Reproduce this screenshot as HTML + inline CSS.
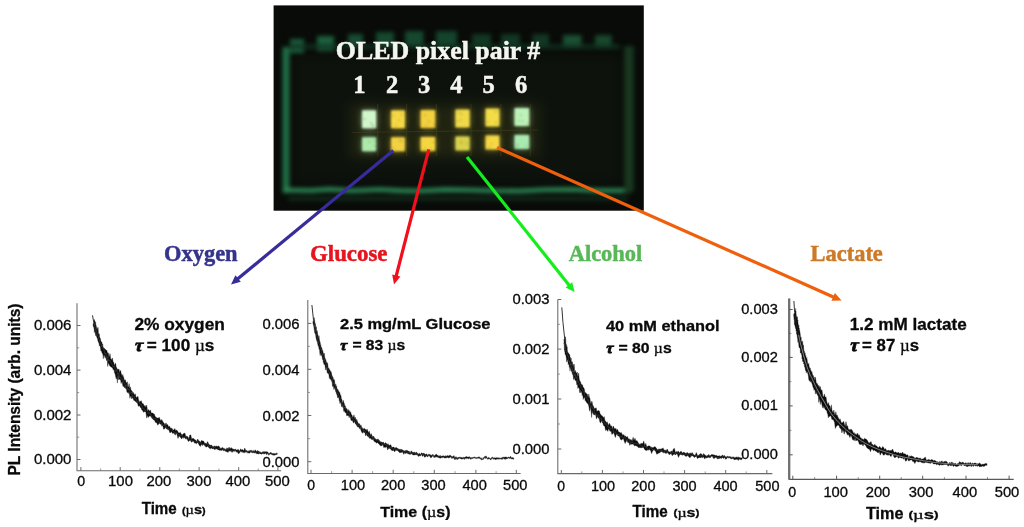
<!DOCTYPE html>
<html lang="en"><head><meta charset="utf-8"><title>OLED sensor array figure</title>
<style>html,body{margin:0;padding:0;background:#fff;}body{width:1024px;height:527px;overflow:hidden;}svg{display:block;}text{font-family:'Liberation Sans', Arial, sans-serif;fill:#0a0a0a;stroke:#0a0a0a;stroke-width:0.3px;}.tk{font-size:14px;}.b{font-weight:bold;}.ser{font-family:'Liberation Serif', 'Times New Roman', serif;font-weight:bold;stroke-width:0.5px;}</style></head><body>
<svg width="1024" height="527" viewBox="0 0 1024 527">
<defs><filter color-interpolation-filters="sRGB" id="bl1" x="-20%" y="-20%" width="140%" height="140%"><feGaussianBlur stdDeviation="0.6"/></filter><filter color-interpolation-filters="sRGB" id="bl2" x="-30%" y="-30%" width="160%" height="160%"><feGaussianBlur stdDeviation="2.2"/></filter><filter color-interpolation-filters="sRGB" id="bl3" x="-50%" y="-50%" width="200%" height="200%"><feGaussianBlur stdDeviation="3"/></filter><filter color-interpolation-filters="sRGB" id="bl07" x="-5%" y="-20%" width="110%" height="140%"><feGaussianBlur stdDeviation="0.65"/></filter><filter color-interpolation-filters="sRGB" id="bl15" x="-20%" y="-20%" width="140%" height="140%"><feGaussianBlur stdDeviation="1.0"/></filter><filter color-interpolation-filters="sRGB" id="bl6" x="-50%" y="-50%" width="200%" height="200%"><feGaussianBlur stdDeviation="6"/></filter><filter color-interpolation-filters="sRGB" id="soft" x="-5%" y="-5%" width="110%" height="110%"><feGaussianBlur stdDeviation="0.55"/></filter></defs>
<rect width="1024" height="527" fill="#ffffff"/>
<g id="photo">
<rect x="273.6" y="5.4" width="370.2" height="205.3" fill="#090b08"/>
<clipPath id="pc"><rect x="273.6" y="5.4" width="370.2" height="205.3"/></clipPath>
<g clip-path="url(#pc)">
<g filter="url(#bl6)">
<rect x="292" y="54" width="330" height="130" fill="#0d120d"/>
<rect x="350" y="104" width="190" height="54" fill="#2c2e12" opacity="0.6"/>
</g>
<g filter="url(#bl2)">
<rect x="290" y="39" width="14" height="14" fill="#1b5c3c"/>
<rect x="317" y="36" width="17" height="15" fill="#1c603e"/>
<rect x="348" y="34" width="15" height="14" fill="#174c33"/>
<rect x="376" y="32" width="18" height="15" fill="#16482e"/>
<rect x="405" y="31" width="18.5" height="15" fill="#16482e"/>
<rect x="436" y="31" width="21" height="15" fill="#15432b"/>
<rect x="472" y="34" width="19" height="13" fill="#123722"/>
<rect x="501" y="34" width="19" height="13" fill="#123722"/>
<rect x="532.5" y="34" width="16.5" height="13" fill="#123722"/>
<rect x="563" y="35" width="18.5" height="13" fill="#1a5033"/>
<rect x="595" y="35" width="16.7" height="13" fill="#18482c"/>
<rect x="290" y="44" width="330" height="5" fill="#123222" opacity="0.8"/>
<rect x="282.5" y="47" width="7" height="146" fill="#1f6e47"/>
<path d="M284 190 L310 190.5 L330 189.3 L352 190.8 L380 189.5 L400 190.6 L420 191 L445 189.6 L470 190 L495 190.8 L520 191 L545 189.8 L570 189.5 L600 190.6 L630 190.5" stroke="#2c8a56" stroke-width="4.6" fill="none"/>
<rect x="624" y="46" width="10" height="146" fill="#18361f"/>
<rect x="288" y="196" width="340" height="5" fill="#14301f" opacity="0.7"/>
</g>
<g filter="url(#bl3)" opacity="0.55">
<rect x="362.1" y="110.4" width="14" height="18" fill="#d2f6cc"/>
<rect x="362.1" y="137.3" width="14" height="14" fill="#aeeaac"/>
<rect x="391.1" y="110.4" width="13.8" height="18" fill="#f6d846"/>
<rect x="391.1" y="137.3" width="13.8" height="14" fill="#f2d242"/>
<rect x="420.6" y="110.1" width="14.6" height="18" fill="#f2d040"/>
<rect x="420.6" y="137" width="14.6" height="14" fill="#f6d640"/>
<rect x="455.4" y="109.6" width="14.2" height="18" fill="#f0da4a"/>
<rect x="455.4" y="136.5" width="14.2" height="14" fill="#d8d24c"/>
<rect x="485.5" y="108.6" width="13.9" height="18" fill="#f2dc48"/>
<rect x="485.5" y="135.5" width="13.9" height="14" fill="#f6d844"/>
<rect x="514.5" y="108.1" width="14.6" height="18" fill="#bdf2ba"/>
<rect x="514.5" y="135" width="14.6" height="14" fill="#aaeab2"/>
</g>
<g filter="url(#bl1)" opacity="0.3" stroke="#5a5a26" stroke-width="1.2">
<line x1="352" y1="132.5" x2="538" y2="130"/>
<line x1="377.6" y1="104" x2="377.6" y2="156"/>
<line x1="406.5" y1="104" x2="406.5" y2="156"/>
<line x1="436.4" y1="104" x2="436.4" y2="156"/>
<line x1="471" y1="104" x2="471" y2="156"/>
<line x1="500.9" y1="104" x2="500.9" y2="156"/>
<line x1="530.3" y1="104" x2="530.3" y2="156"/>
</g>
<g filter="url(#bl15)">
<rect x="362.1" y="110.4" width="14" height="17.8" fill="#d2f6cc"/>
<rect x="362.1" y="137.3" width="14" height="13.9" fill="#aeeaac"/>
<rect x="370" y="121.8" width="2.2" height="2.2" fill="#7fae6a" opacity="0.4"/>
<rect x="371.8" y="124.6" width="2.2" height="2.2" fill="#7fae6a" opacity="0.4"/>
<rect x="371.2" y="124.3" width="2.2" height="2.2" fill="#7fae6a" opacity="0.4"/>
<rect x="363.4" y="117.9" width="2.2" height="2.2" fill="#7fae6a" opacity="0.4"/>
<rect x="373.5" y="144.8" width="2.2" height="2.2" fill="#7fae6a" opacity="0.4"/>
<rect x="373" y="139.4" width="2.2" height="2.2" fill="#7fae6a" opacity="0.4"/>
<rect x="368.3" y="140.8" width="2.2" height="2.2" fill="#7fae6a" opacity="0.4"/>
<rect x="391.1" y="110.4" width="13.8" height="17.8" fill="#f6d846"/>
<rect x="391.1" y="137.3" width="13.8" height="13.9" fill="#f2d242"/>
<rect x="398" y="119.4" width="2.2" height="2.2" fill="#b89a28" opacity="0.4"/>
<rect x="392.2" y="114.4" width="2.2" height="2.2" fill="#b89a28" opacity="0.4"/>
<rect x="395.1" y="124.2" width="2.2" height="2.2" fill="#b89a28" opacity="0.4"/>
<rect x="400.4" y="113.6" width="2.2" height="2.2" fill="#b89a28" opacity="0.4"/>
<rect x="400.7" y="139.7" width="2.2" height="2.2" fill="#b89a28" opacity="0.4"/>
<rect x="398.8" y="139.6" width="2.2" height="2.2" fill="#b89a28" opacity="0.4"/>
<rect x="392.1" y="147" width="2.2" height="2.2" fill="#b89a28" opacity="0.4"/>
<rect x="420.6" y="110.1" width="14.6" height="17.8" fill="#f2d040"/>
<rect x="420.6" y="137" width="14.6" height="13.9" fill="#f6d640"/>
<rect x="424" y="114.1" width="2.2" height="2.2" fill="#b89a28" opacity="0.4"/>
<rect x="433" y="123.3" width="2.2" height="2.2" fill="#b89a28" opacity="0.4"/>
<rect x="425" y="124.6" width="2.2" height="2.2" fill="#b89a28" opacity="0.4"/>
<rect x="427.9" y="120.6" width="2.2" height="2.2" fill="#b89a28" opacity="0.4"/>
<rect x="424" y="147.4" width="2.2" height="2.2" fill="#b89a28" opacity="0.4"/>
<rect x="429.6" y="147.7" width="2.2" height="2.2" fill="#b89a28" opacity="0.4"/>
<rect x="432" y="141" width="2.2" height="2.2" fill="#b89a28" opacity="0.4"/>
<rect x="455.4" y="109.6" width="14.2" height="17.8" fill="#f0da4a"/>
<rect x="455.4" y="136.5" width="14.2" height="13.9" fill="#d8d24c"/>
<rect x="460.4" y="112.9" width="2.2" height="2.2" fill="#b89a28" opacity="0.4"/>
<rect x="458" y="111.5" width="2.2" height="2.2" fill="#b89a28" opacity="0.4"/>
<rect x="459.8" y="119" width="2.2" height="2.2" fill="#b89a28" opacity="0.4"/>
<rect x="456.4" y="120.1" width="2.2" height="2.2" fill="#b89a28" opacity="0.4"/>
<rect x="460.2" y="140.6" width="2.2" height="2.2" fill="#b89a28" opacity="0.4"/>
<rect x="465.6" y="142.3" width="2.2" height="2.2" fill="#b89a28" opacity="0.4"/>
<rect x="459.9" y="142.3" width="2.2" height="2.2" fill="#b89a28" opacity="0.4"/>
<rect x="485.5" y="108.6" width="13.9" height="17.8" fill="#f2dc48"/>
<rect x="485.5" y="135.5" width="13.9" height="13.9" fill="#f6d844"/>
<rect x="494.2" y="110.4" width="2.2" height="2.2" fill="#b89a28" opacity="0.4"/>
<rect x="497.1" y="109.9" width="2.2" height="2.2" fill="#b89a28" opacity="0.4"/>
<rect x="494.7" y="121.4" width="2.2" height="2.2" fill="#b89a28" opacity="0.4"/>
<rect x="486.7" y="120.6" width="2.2" height="2.2" fill="#b89a28" opacity="0.4"/>
<rect x="490.5" y="142.3" width="2.2" height="2.2" fill="#b89a28" opacity="0.4"/>
<rect x="486.6" y="137" width="2.2" height="2.2" fill="#b89a28" opacity="0.4"/>
<rect x="488.5" y="146.1" width="2.2" height="2.2" fill="#b89a28" opacity="0.4"/>
<rect x="514.5" y="108.1" width="14.6" height="17.8" fill="#bdf2ba"/>
<rect x="514.5" y="135" width="14.6" height="13.9" fill="#aaeab2"/>
<rect x="517.8" y="119.7" width="2.2" height="2.2" fill="#7fae6a" opacity="0.4"/>
<rect x="526.3" y="122.3" width="2.2" height="2.2" fill="#7fae6a" opacity="0.4"/>
<rect x="519.5" y="114.1" width="2.2" height="2.2" fill="#7fae6a" opacity="0.4"/>
<rect x="521.6" y="120" width="2.2" height="2.2" fill="#7fae6a" opacity="0.4"/>
<rect x="516.8" y="143.5" width="2.2" height="2.2" fill="#7fae6a" opacity="0.4"/>
<rect x="524.7" y="144.6" width="2.2" height="2.2" fill="#7fae6a" opacity="0.4"/>
<rect x="515.9" y="145.5" width="2.2" height="2.2" fill="#7fae6a" opacity="0.4"/>
</g>
<g filter="url(#bl07)">
<text class="ser" x="335.8" y="58.9" font-size="25" style="fill:#f6f6f0;stroke:#f6f6f0" textLength="204.5" lengthAdjust="spacingAndGlyphs">OLED pixel pair #</text>
<text class="ser" x="359.3" y="92.9" font-size="24.5" text-anchor="middle" style="fill:#f6f6f0;stroke:#f6f6f0">1</text>
<text class="ser" x="392" y="92.9" font-size="24.5" text-anchor="middle" style="fill:#f6f6f0;stroke:#f6f6f0">2</text>
<text class="ser" x="424" y="92.9" font-size="24.5" text-anchor="middle" style="fill:#f6f6f0;stroke:#f6f6f0">3</text>
<text class="ser" x="456.4" y="92.9" font-size="24.5" text-anchor="middle" style="fill:#f6f6f0;stroke:#f6f6f0">4</text>
<text class="ser" x="488.7" y="92.9" font-size="24.5" text-anchor="middle" style="fill:#f6f6f0;stroke:#f6f6f0">5</text>
<text class="ser" x="521.2" y="92.9" font-size="24.5" text-anchor="middle" style="fill:#f6f6f0;stroke:#f6f6f0">6</text>
</g>
</g>
</g>
<g id="arrows" filter="url(#bl07)">
<line x1="393.3" y1="150.4" x2="236.6" y2="279.8" stroke="#382c9c" stroke-width="3.2"/>
<polygon points="231,284.4 235.4,275.3 240.8,281.8" fill="#382c9c"/>
<line x1="428.8" y1="149.4" x2="395.8" y2="277.5" stroke="#f0101c" stroke-width="3.2"/>
<polygon points="394,284.5 392.2,274.5 400.4,276.6" fill="#f0101c"/>
<line x1="467" y1="157" x2="570.1" y2="286.4" stroke="#14ee1c" stroke-width="3.2"/>
<polygon points="574.6,292 565.6,287.4 572.2,282.2" fill="#14ee1c"/>
<line x1="497" y1="147.5" x2="835" y2="297.7" stroke="#f0600c" stroke-width="3.2"/>
<polygon points="841.6,300.6 831.5,300.7 834.9,293" fill="#f0600c"/>
</g>
<g filter="url(#soft)">
<text class="ser" x="164" y="261" font-size="23" style="fill:#34348c;stroke:#34348c" textLength="73.6" lengthAdjust="spacingAndGlyphs">Oxygen</text>
<text class="ser" x="310" y="261" font-size="23" style="fill:#e6141e;stroke:#e6141e" textLength="77.5" lengthAdjust="spacingAndGlyphs">Glucose</text>
<text class="ser" x="568.7" y="261" font-size="23" style="fill:#58b858;stroke:#58b858" textLength="73.6" lengthAdjust="spacingAndGlyphs">Alcohol</text>
<text class="ser" x="810.6" y="261" font-size="23" style="fill:#cc7a28;stroke:#cc7a28" textLength="72.2" lengthAdjust="spacingAndGlyphs">Lactate</text>
</g>
<g id="plots" filter="url(#soft)">
<text class="b" transform="translate(19.9,475.5) rotate(-90)" font-size="16" textLength="172" lengthAdjust="spacingAndGlyphs">PL Intensity (arb. units)</text>
<g>
<path d="M77 303.3 V470.7 H281.2" fill="none" stroke="#6a6a6a" stroke-width="1.05"/>
<line x1="77" y1="459.5" x2="80.5" y2="459.5" stroke="#6a6a6a" stroke-width="1"/>
<text x="33.9" y="464" font-size="14.2" textLength="37.6" lengthAdjust="spacingAndGlyphs">0.000</text>
<line x1="77" y1="415" x2="80.5" y2="415" stroke="#6a6a6a" stroke-width="1"/>
<text x="33.9" y="419.5" font-size="14.2" textLength="37.6" lengthAdjust="spacingAndGlyphs">0.002</text>
<line x1="77" y1="370.1" x2="80.5" y2="370.1" stroke="#6a6a6a" stroke-width="1"/>
<text x="33.9" y="374.6" font-size="14.2" textLength="37.6" lengthAdjust="spacingAndGlyphs">0.004</text>
<line x1="77" y1="325.5" x2="80.5" y2="325.5" stroke="#6a6a6a" stroke-width="1"/>
<text x="33.9" y="330" font-size="14.2" textLength="37.6" lengthAdjust="spacingAndGlyphs">0.006</text>
<line x1="77" y1="437.2" x2="79.2" y2="437.2" stroke="#6a6a6a" stroke-width="0.9" opacity="0.75"/>
<line x1="77" y1="392.6" x2="79.2" y2="392.6" stroke="#6a6a6a" stroke-width="0.9" opacity="0.75"/>
<line x1="77" y1="347.8" x2="79.2" y2="347.8" stroke="#6a6a6a" stroke-width="0.9" opacity="0.75"/>
<line x1="80.9" y1="470.7" x2="80.9" y2="467.09999999999997" stroke="#6a6a6a" stroke-width="1"/>
<text x="81.2" y="486.3" text-anchor="middle" font-size="14.2">0</text>
<line x1="100.6" y1="470.7" x2="100.6" y2="468.5" stroke="#6a6a6a" stroke-width="0.9" opacity="0.75"/>
<line x1="120.2" y1="470.7" x2="120.2" y2="467.09999999999997" stroke="#6a6a6a" stroke-width="1"/>
<text x="108.1" y="486.3" font-size="14.2" textLength="24.8" lengthAdjust="spacingAndGlyphs">100</text>
<line x1="140" y1="470.7" x2="140" y2="468.5" stroke="#6a6a6a" stroke-width="0.9" opacity="0.75"/>
<line x1="159.8" y1="470.7" x2="159.8" y2="467.09999999999997" stroke="#6a6a6a" stroke-width="1"/>
<text x="146.4" y="486.3" font-size="14.2" textLength="24.8" lengthAdjust="spacingAndGlyphs">200</text>
<line x1="179.4" y1="470.7" x2="179.4" y2="468.5" stroke="#6a6a6a" stroke-width="0.9" opacity="0.75"/>
<line x1="199.1" y1="470.7" x2="199.1" y2="467.09999999999997" stroke="#6a6a6a" stroke-width="1"/>
<text x="186.6" y="486.3" font-size="14.2" textLength="24.8" lengthAdjust="spacingAndGlyphs">300</text>
<line x1="218.9" y1="470.7" x2="218.9" y2="468.5" stroke="#6a6a6a" stroke-width="0.9" opacity="0.75"/>
<line x1="238.7" y1="470.7" x2="238.7" y2="467.09999999999997" stroke="#6a6a6a" stroke-width="1"/>
<text x="225.5" y="486.3" font-size="14.2" textLength="24.8" lengthAdjust="spacingAndGlyphs">400</text>
<line x1="258.3" y1="470.7" x2="258.3" y2="468.5" stroke="#6a6a6a" stroke-width="0.9" opacity="0.75"/>
<line x1="277.9" y1="470.7" x2="277.9" y2="467.09999999999997" stroke="#6a6a6a" stroke-width="1"/>
<text x="264.9" y="486.3" font-size="14.2" textLength="24.8" lengthAdjust="spacingAndGlyphs">500</text>
<text class="b" x="141.7" y="514.4" font-size="15.8" textLength="35" lengthAdjust="spacingAndGlyphs">Time</text><text class="b" x="182" y="514.4" font-size="12" textLength="23.6" lengthAdjust="spacingAndGlyphs"><tspan font-size="8.9" dy="-0.6">(</tspan><tspan dy="0.6"><tspan style="font-family:'Liberation Serif', 'Times New Roman', serif;font-weight:normal">µ</tspan>s</tspan><tspan font-size="8.9" dy="-0.6">)</tspan></text>
<text class="b" x="134.4" y="329.7" font-size="16.5" textLength="90.5" lengthAdjust="spacingAndGlyphs">2% oxygen</text>
<text class="b" transform="translate(133.4,351.1) skewX(-14)" font-size="17.8" textLength="8.6" lengthAdjust="spacingAndGlyphs" style="font-family:'Liberation Serif', 'Times New Roman', serif;stroke-width:0.7px">τ</text>
<text class="b" x="146.8" y="351.1" font-size="16.5" textLength="67.6" lengthAdjust="spacingAndGlyphs">= 100 <tspan style="font-family:'Liberation Serif', 'Times New Roman', serif;font-weight:normal">µ</tspan>s</text>
<path d="M92.5 315.3 L93.7 322.1" stroke="#333" stroke-width="1" fill="none"/>
<path d="M94.4 319.4L94.7 320.9L95.0 321.2L95.3 322.1L95.6 322.3L95.9 325.1L96.2 325.6L96.5 327.3L96.8 328.9L97.1 329.8L97.4 327.6L97.7 331.6L98.0 327.4L98.3 332.1L98.7 334.5L99.0 333.7L99.3 334.1L99.6 337.1L100.0 338.0L100.3 338.2L100.7 340.5L101.0 341.3L101.4 342.1L101.8 342.1L102.2 344.1L102.7 344.0L103.1 347.1L103.6 348.0L104.0 348.2L104.5 348.3L105.0 349.6L105.5 349.6L106.0 349.8L106.4 350.8L106.9 350.2L107.4 353.4L107.9 352.6L108.4 353.3L108.9 356.7L109.4 356.6L110.0 353.5L110.6 358.3L111.2 360.1L111.8 358.9L112.4 358.0L113.1 361.9L113.7 362.3L114.3 365.4L115.0 363.7L115.6 363.2L116.2 366.8L116.8 368.2L117.4 369.1L118.0 369.9L118.6 369.0L119.1 369.3L119.6 373.1L120.2 370.8L120.7 370.6L121.2 373.5L121.7 374.5L122.2 377.0L122.8 374.5L123.3 376.6L123.8 378.1L124.4 379.9L125.0 380.5L125.5 379.7L126.1 383.2L126.7 382.5L127.3 381.7L127.9 386.2L128.5 387.3L129.1 383.5L129.7 388.4L130.3 386.9L130.9 389.6L131.6 390.8L132.2 391.3L132.8 393.3L133.4 392.4L134.1 394.5L134.7 394.7L135.3 393.8L136.0 397.3L136.6 397.5L137.3 397.1L137.9 396.3L138.6 399.8L139.3 401.4L139.9 402.0L140.6 400.9L141.3 400.8L142.0 402.9L142.7 403.7L143.4 403.8L144.2 406.5L145.0 405.3L145.9 407.4L146.7 405.0L147.5 411.1L148.2 409.6L149.0 410.2L149.7 411.3L150.5 409.9L151.2 412.9L152.0 413.1L152.7 412.9L153.5 413.8L154.3 414.1L155.1 416.6L155.9 417.1L156.7 417.8L157.5 418.1L158.3 418.3L159.2 417.2L160.0 419.2L160.8 421.0L161.7 419.4L162.5 421.0L163.4 422.4L164.2 423.2L165.1 424.9L166.0 422.8L166.8 425.0L167.7 424.5L168.6 427.0L169.4 426.1L170.3 428.0L171.2 428.1L172.1 428.4L173.0 430.0L173.9 430.0L174.8 428.5L175.7 430.8L176.6 430.0L177.5 431.0L178.4 432.7L179.3 433.1L180.3 432.3L181.2 434.0L182.1 435.0L183.1 434.0L184.0 433.3L185.0 433.2L185.9 436.8L186.9 436.1L187.9 437.0L188.8 438.7L189.8 435.0L190.8 434.9L191.8 439.4L192.7 438.3L193.7 438.5L194.7 439.8L195.7 440.0L196.7 441.7L197.6 439.0L198.6 440.4L199.6 441.2L200.6 442.2L201.6 440.3L202.6 441.0L203.6 441.1L204.6 443.2L205.6 443.2L206.6 443.7L207.6 441.6L208.6 443.8L209.6 445.1L210.6 445.3L211.6 445.1L212.6 446.4L213.7 446.4L214.7 445.9L215.7 446.4L216.7 446.0L217.7 446.5L218.8 445.9L219.8 447.6L220.8 448.4L221.9 447.8L222.9 447.6L223.9 448.7L224.9 448.7L226.0 449.5L227.0 447.7L228.1 448.9L229.1 447.1L230.1 449.1L231.2 447.5L232.2 448.8L233.3 449.1L234.3 449.6L235.3 449.0L236.4 450.0L237.4 449.8L238.5 449.5L239.5 451.3L240.6 448.8L241.6 450.1L242.7 449.5L243.7 450.8L244.8 448.0L245.8 450.7L246.8 450.2L247.9 451.7L248.9 450.5L250.0 450.9L251.0 449.8L252.1 451.5L253.1 450.3L254.2 451.5L255.2 449.8L256.3 451.5L257.3 450.5L258.4 451.1L259.4 451.7L260.5 452.0L261.5 452.8L262.5 451.8L263.6 451.8L264.6 451.7L265.7 451.7L266.7 451.8L267.8 452.1L268.8 453.7L269.9 453.0L270.9 452.3L272.0 453.5L273.0 453.4L274.1 453.5L275.1 453.7L276.2 453.2L277.2 452.9L277.2 454.4L276.1 454.6L275.1 455.0L274.0 455.2L273.0 455.0L271.9 454.8L270.9 453.8L269.8 454.3L268.8 455.3L267.7 453.4L266.7 454.8L265.6 453.0L264.6 454.0L263.5 453.8L262.5 453.4L261.5 454.2L260.4 453.7L259.4 453.5L258.3 454.0L257.3 453.7L256.2 453.6L255.2 452.7L254.1 453.1L253.1 452.4L252.0 453.0L251.0 451.5L249.9 453.1L248.9 453.1L247.8 453.1L246.8 452.2L245.7 452.1L244.7 452.8L243.7 452.4L242.6 452.3L241.6 452.0L240.5 451.2L239.5 453.1L238.4 453.7L237.4 452.0L236.3 452.1L235.3 450.6L234.2 451.5L233.2 450.9L232.1 452.4L231.1 451.0L230.0 451.3L229.0 450.8L228.0 452.6L226.9 451.5L225.9 451.8L224.8 450.3L223.8 451.1L222.8 449.8L221.7 450.6L220.7 450.2L219.6 450.3L218.6 449.9L217.6 449.5L216.5 448.8L215.5 449.3L214.5 449.6L213.5 448.4L212.4 448.9L211.4 447.9L210.4 448.8L209.4 448.2L208.4 447.0L207.4 446.2L206.4 447.2L205.4 446.6L204.4 445.3L203.4 444.6L202.4 445.6L201.4 444.2L200.4 446.5L199.4 445.6L198.4 443.6L197.4 442.4L196.4 443.8L195.4 443.1L194.4 443.1L193.4 441.1L192.4 441.5L191.4 442.2L190.4 440.5L189.5 440.6L188.5 441.6L187.5 439.9L186.5 438.6L185.6 439.1L184.6 437.4L183.6 438.3L182.7 437.0L181.7 439.1L180.8 437.7L179.8 436.5L178.9 436.1L178.0 438.4L177.0 434.6L176.1 433.1L175.2 435.3L174.3 433.4L173.4 433.1L172.5 433.4L171.6 431.6L170.7 432.6L169.8 432.7L168.9 429.7L168.0 429.8L167.1 429.1L166.3 428.7L165.4 427.2L164.5 429.0L163.6 429.2L162.8 425.5L161.9 426.3L161.1 423.9L160.2 424.2L159.4 422.9L158.5 424.2L157.7 425.2L156.8 422.7L156.0 422.7L155.2 421.9L154.4 420.0L153.6 420.1L152.8 419.1L152.0 418.3L151.2 416.9L150.5 416.0L149.7 415.9L148.9 416.4L148.2 417.6L147.4 415.6L146.7 418.1L145.9 412.3L145.1 411.6L144.3 411.7L143.5 412.2L142.7 410.4L141.9 410.0L141.1 408.0L140.4 407.5L139.7 405.7L139.0 406.1L138.4 406.3L137.7 404.1L137.0 402.3L136.4 402.5L135.7 401.8L135.0 400.9L134.4 400.5L133.8 400.4L133.1 398.2L132.5 397.6L131.8 399.0L131.2 396.5L130.6 396.1L129.9 398.3L129.3 393.3L128.7 393.5L128.1 391.9L127.5 392.8L126.9 391.8L126.3 388.4L125.7 388.7L125.1 386.9L124.5 388.0L123.9 385.2L123.3 386.9L122.8 385.8L122.2 381.8L121.7 381.8L121.1 383.5L120.6 380.1L120.1 379.6L119.6 378.9L119.0 379.7L118.5 379.6L118.0 374.0L117.4 383.1L116.9 376.9L116.3 379.2L115.7 376.8L115.1 373.7L114.5 373.0L113.9 368.7L113.3 370.2L112.6 367.7L112.0 367.7L111.4 366.9L110.7 366.8L110.1 366.0L109.5 365.6L108.9 364.0L108.3 362.8L107.7 366.6L107.2 358.4L106.7 360.8L106.2 359.0L105.7 356.3L105.2 358.2L104.7 356.6L104.2 355.0L103.7 354.9L103.3 358.8L102.8 354.0L102.3 353.3L101.8 352.3L101.4 350.5L100.9 351.1L100.5 348.1L100.1 346.2L99.7 345.9L99.3 345.5L99.0 342.5L98.6 342.8L98.3 341.7L97.9 340.8L97.6 338.9L97.3 338.3L96.9 337.5L96.6 336.4L96.3 335.9L96.0 333.1L95.7 335.8L95.3 333.3L95.0 331.1L94.7 331.3L94.4 332.6L94.1 328.9L93.9 327.9L93.6 326.4L93.3 326.5L93.0 324.8Z" fill="#0e0e0e" stroke="#0e0e0e" stroke-width="0.35" stroke-linejoin="round"/>
<path d="M93.7 320.9L94.1 324.7L94.8 324.3L95.2 329.6L95.9 329.1L96.3 331.4L97.0 333.5L97.4 334.2L98.2 336.2L98.6 338.4L99.5 339.9L99.9 342.4L100.9 343.7L101.4 346.7L102.5 344.7L103.1 348.5L104.2 350.3L104.8 354.1L106.0 353.1L106.6 358.3L107.8 356.5L108.5 361.0L109.9 360.0L110.7 362.3L112.3 364.8L113.0 366.9L114.6 365.7L115.4 371.4L116.9 369.7L117.6 374.3L118.9 373.2L119.6 377.5L120.9 377.2L121.5 379.1L122.8 378.8L123.5 382.5L124.9 383.5L125.7 386.7L127.1 384.8L127.9 389.9L129.4 389.1L130.1 393.2L131.7 392.3L132.5 396.6L134.1 396.0L134.8 398.6L136.4 399.2L137.3 402.5L138.9 400.5L139.7 403.8L141.4 404.5L142.4 408.2L144.3 409.0L145.3 410.9L147.3 409.6L148.2 413.4L150.1 413.1L151.0 415.9L152.9 417.0L153.9 419.6L155.9 417.9L156.9 420.0L159.0 422.6L160.0 422.7L162.1 423.2L163.2 425.7L165.3 424.9L166.4 427.8L168.5 428.5L169.6 429.5L171.8 428.1L172.9 431.3L175.2 432.9L176.3 432.8L178.6 434.6L179.7 435.7L182.1 435.1L183.2 437.6L185.6 436.9L186.8 439.5L189.2 438.5L190.4 440.5L192.8 440.7L194.1 442.3L196.5 440.6L197.7 442.0L200.2 442.1L201.4 444.3L203.9 444.7L205.2 445.2L207.6 443.3L208.9 446.7L211.4 446.5L212.6 447.4L215.2 447.7L216.4 449.7L219.0 448.4L220.3 448.5L222.8 449.4L224.1 449.4L226.7 449.7L228.0 449.7L230.5 450.5L231.8 450.7L234.4 449.7L235.7 452.4L238.3 450.6L239.6 451.8L242.2 451.0L243.5 452.9L246.1 450.9L247.4 452.7L250.0 451.4L251.3 452.4L253.8 451.1L255.1 452.7L257.7 451.6L259.0 452.7L261.6 452.4L262.9 452.5L265.5 453.0L266.8 453.6L269.4 454.1L270.7 454.5L273.3 453.9L274.6 453.7L277.2 453.3" fill="none" stroke="#8a8a8a" stroke-width="0.45" opacity="0.55"/>
</g>
<g>
<path d="M307.8 300 V473.4 H520.6" fill="none" stroke="#6a6a6a" stroke-width="1.05"/>
<line x1="307.8" y1="461.7" x2="311.3" y2="461.7" stroke="#6a6a6a" stroke-width="1"/>
<text x="262.4" y="466.9" font-size="14" textLength="37.1" lengthAdjust="spacingAndGlyphs">0.000</text>
<line x1="307.8" y1="415.5" x2="311.3" y2="415.5" stroke="#6a6a6a" stroke-width="1"/>
<text x="262.4" y="420.7" font-size="14" textLength="37.1" lengthAdjust="spacingAndGlyphs">0.002</text>
<line x1="307.8" y1="369.3" x2="311.3" y2="369.3" stroke="#6a6a6a" stroke-width="1"/>
<text x="262.4" y="374.5" font-size="14" textLength="37.1" lengthAdjust="spacingAndGlyphs">0.004</text>
<line x1="307.8" y1="323.4" x2="311.3" y2="323.4" stroke="#6a6a6a" stroke-width="1"/>
<text x="262.4" y="328.6" font-size="14" textLength="37.1" lengthAdjust="spacingAndGlyphs">0.006</text>
<line x1="307.8" y1="438.6" x2="310.0" y2="438.6" stroke="#6a6a6a" stroke-width="0.9" opacity="0.75"/>
<line x1="307.8" y1="392.4" x2="310.0" y2="392.4" stroke="#6a6a6a" stroke-width="0.9" opacity="0.75"/>
<line x1="307.8" y1="346.4" x2="310.0" y2="346.4" stroke="#6a6a6a" stroke-width="0.9" opacity="0.75"/>
<line x1="311" y1="473.4" x2="311" y2="469.79999999999995" stroke="#6a6a6a" stroke-width="1"/>
<text x="311.1" y="490" text-anchor="middle" font-size="14">0</text>
<line x1="331.6" y1="473.4" x2="331.6" y2="471.2" stroke="#6a6a6a" stroke-width="0.9" opacity="0.75"/>
<line x1="352.1" y1="473.4" x2="352.1" y2="469.79999999999995" stroke="#6a6a6a" stroke-width="1"/>
<text x="340.8" y="490" font-size="14" textLength="24.4" lengthAdjust="spacingAndGlyphs">100</text>
<line x1="372.6" y1="473.4" x2="372.6" y2="471.2" stroke="#6a6a6a" stroke-width="0.9" opacity="0.75"/>
<line x1="393.2" y1="473.4" x2="393.2" y2="469.79999999999995" stroke="#6a6a6a" stroke-width="1"/>
<text x="380.9" y="490" font-size="14" textLength="24.4" lengthAdjust="spacingAndGlyphs">200</text>
<line x1="413.8" y1="473.4" x2="413.8" y2="471.2" stroke="#6a6a6a" stroke-width="0.9" opacity="0.75"/>
<line x1="434.3" y1="473.4" x2="434.3" y2="469.79999999999995" stroke="#6a6a6a" stroke-width="1"/>
<text x="421.3" y="490" font-size="14" textLength="24.4" lengthAdjust="spacingAndGlyphs">300</text>
<line x1="455.1" y1="473.4" x2="455.1" y2="471.2" stroke="#6a6a6a" stroke-width="0.9" opacity="0.75"/>
<line x1="475.9" y1="473.4" x2="475.9" y2="469.79999999999995" stroke="#6a6a6a" stroke-width="1"/>
<text x="462.4" y="490" font-size="14" textLength="24.4" lengthAdjust="spacingAndGlyphs">400</text>
<line x1="496.1" y1="473.4" x2="496.1" y2="471.2" stroke="#6a6a6a" stroke-width="0.9" opacity="0.75"/>
<line x1="516.3" y1="473.4" x2="516.3" y2="469.79999999999995" stroke="#6a6a6a" stroke-width="1"/>
<text x="503" y="490" font-size="14" textLength="24.4" lengthAdjust="spacingAndGlyphs">500</text>
<text class="b" x="380.2" y="516.7" font-size="15.5" textLength="70.3" lengthAdjust="spacingAndGlyphs">Time (<tspan style="font-family:'Liberation Serif', 'Times New Roman', serif;font-weight:normal">µ</tspan>s)</text>
<text class="b" x="340" y="328.9" font-size="14" textLength="150.5" lengthAdjust="spacingAndGlyphs">2.5 mg/mL Glucose</text>
<text class="b" transform="translate(339,349.5) skewX(-14)" font-size="15.1" textLength="7.3" lengthAdjust="spacingAndGlyphs" style="font-family:'Liberation Serif', 'Times New Roman', serif;stroke-width:0.7px">τ</text>
<text class="b" x="352.4" y="349.5" font-size="14" textLength="52.8" lengthAdjust="spacingAndGlyphs">= 83 <tspan style="font-family:'Liberation Serif', 'Times New Roman', serif;font-weight:normal">µ</tspan>s</text>
<path d="M311.9 305 L313.5 320" stroke="#333" stroke-width="1" fill="none"/>
<path d="M314.2 317.6L314.4 319.8L314.6 320.1L314.8 321.8L315.0 322.7L315.2 323.4L315.4 323.7L315.6 325.1L315.8 327.0L316.0 328.6L316.3 326.6L316.5 330.2L316.7 331.2L317.0 331.2L317.2 330.6L317.4 331.7L317.7 334.5L317.9 335.0L318.2 335.8L318.5 337.9L318.7 338.4L319.0 335.7L319.3 339.3L319.6 340.2L319.9 342.1L320.2 342.3L320.5 346.0L320.8 344.7L321.2 347.7L321.5 347.2L321.8 348.0L322.2 349.5L322.5 351.7L322.8 350.5L323.2 352.9L323.5 353.3L323.8 355.6L324.2 353.1L324.5 356.0L324.9 357.9L325.2 358.6L325.6 359.3L325.9 360.0L326.3 361.8L326.6 362.7L327.0 362.8L327.4 362.8L327.7 363.8L328.1 367.2L328.5 368.7L328.9 367.9L329.3 369.6L329.7 369.7L330.1 370.3L330.5 372.3L330.9 371.3L331.4 373.0L331.8 374.8L332.2 376.0L332.6 376.7L333.0 377.2L333.4 378.9L333.8 379.9L334.2 379.5L334.6 380.8L335.0 385.2L335.4 385.2L335.8 383.8L336.2 385.8L336.6 386.3L337.0 388.4L337.4 390.0L337.9 389.1L338.3 391.6L338.7 390.7L339.1 392.7L339.4 391.9L339.8 392.7L340.3 395.7L340.7 394.7L341.1 396.8L341.5 399.5L341.9 399.3L342.4 402.3L342.8 403.1L343.3 400.3L343.8 402.6L344.3 403.6L344.8 406.1L345.3 405.7L345.8 407.9L346.3 408.2L346.9 408.5L347.5 411.2L348.1 409.3L348.7 411.0L349.3 410.5L350.0 412.5L350.6 411.7L351.3 414.6L352.0 415.0L352.6 417.2L353.3 417.1L354.0 414.8L354.7 418.7L355.4 417.2L356.1 420.9L356.8 419.2L357.5 421.8L358.2 422.9L358.9 424.3L359.6 423.6L360.3 426.1L361.0 424.9L361.7 427.5L362.4 427.7L363.2 429.4L363.9 428.3L364.7 428.7L365.5 429.3L366.2 430.7L367.0 428.9L367.8 430.8L368.6 432.8L369.4 431.2L370.2 435.3L371.1 433.6L371.9 435.2L372.7 437.0L373.6 436.1L374.4 437.8L375.3 438.8L376.1 438.9L377.0 440.0L377.9 438.8L378.8 440.1L379.7 440.8L380.6 441.9L381.5 441.9L382.4 442.6L383.3 442.0L384.3 443.9L385.2 442.7L386.1 443.1L387.1 444.7L388.0 443.6L389.0 445.8L390.0 444.7L390.9 445.0L391.9 447.8L392.9 447.1L393.9 447.1L394.9 448.4L395.9 447.3L396.9 448.0L397.9 448.5L398.9 449.3L399.9 449.3L400.9 449.4L401.9 449.6L403.0 450.2L404.0 450.9L405.0 450.8L406.0 450.4L407.1 450.2L408.1 451.3L409.1 451.1L410.1 452.9L411.2 450.8L412.2 452.0L413.2 452.5L414.3 452.1L415.3 453.1L416.3 452.1L417.4 453.1L418.4 454.1L419.4 453.2L420.5 454.6L421.5 452.8L422.6 453.5L423.6 453.3L424.6 453.7L425.7 454.6L426.7 453.8L427.8 455.6L428.8 454.1L429.8 454.4L430.9 455.0L431.9 455.2L433.0 454.2L434.0 455.9L435.1 455.2L436.1 454.1L437.2 455.0L438.2 455.7L439.2 455.9L440.3 455.4L441.3 456.3L442.4 455.9L443.4 455.7L444.5 456.3L445.5 455.8L446.6 456.0L447.6 455.4L448.6 455.9L449.7 455.2L450.7 455.5L451.8 456.4L452.8 456.8L453.9 455.5L454.9 457.8L456.0 456.6L457.0 457.9L458.1 457.6L459.1 457.1L460.2 457.3L461.2 457.3L462.3 457.7L463.3 457.3L464.4 457.6L465.4 457.0L466.5 456.6L467.5 457.1L468.6 457.0L469.6 456.7L470.7 458.0L471.7 457.6L472.8 457.6L473.8 457.2L474.9 456.9L475.9 457.7L477.0 457.5L478.0 457.2L479.1 456.8L480.1 457.7L481.2 458.0L482.2 458.9L483.3 457.9L484.3 456.8L485.4 456.2L486.4 456.2L487.5 458.4L488.5 457.3L489.6 458.1L490.6 458.7L491.7 457.4L492.7 457.2L493.8 458.0L494.8 457.8L495.9 458.1L496.9 457.6L498.0 458.1L499.0 457.7L500.1 458.2L501.1 458.1L502.2 457.5L503.2 457.2L504.3 457.2L505.3 457.1L506.4 457.1L507.4 457.7L508.5 457.0L509.5 457.5L510.6 456.3L511.6 457.9L512.7 457.6L513.7 458.1L513.7 459.3L512.7 458.9L511.6 458.9L510.6 458.2L509.5 458.4L508.5 457.9L507.4 458.4L506.4 458.9L505.3 459.2L504.3 459.0L503.2 458.2L502.2 459.4L501.1 459.1L500.1 458.9L499.0 459.0L498.0 459.3L496.9 458.7L495.9 459.9L494.8 458.8L493.8 459.5L492.7 458.2L491.7 458.8L490.6 460.1L489.6 458.8L488.5 459.0L487.5 459.3L486.4 457.7L485.4 458.5L484.3 457.7L483.3 459.4L482.2 459.6L481.2 459.8L480.1 458.6L479.1 458.2L478.0 458.0L477.0 458.6L475.9 458.6L474.9 458.1L473.8 458.0L472.8 458.5L471.7 458.6L470.7 459.4L469.6 457.9L468.6 459.0L467.5 458.3L466.5 458.6L465.4 458.3L464.4 459.4L463.3 458.6L462.3 459.1L461.2 459.1L460.2 458.4L459.1 458.1L458.1 459.2L457.0 459.4L456.0 458.6L454.9 460.0L453.9 458.1L452.8 458.1L451.8 458.6L450.7 456.8L449.7 457.8L448.6 458.1L447.6 457.6L446.5 457.7L445.5 458.0L444.4 457.9L443.4 457.3L442.3 457.5L441.3 457.7L440.2 458.3L439.2 457.7L438.1 457.4L437.1 456.9L436.0 457.0L435.0 457.2L434.0 457.6L432.9 455.8L431.9 456.9L430.8 457.9L429.8 456.2L428.7 455.5L427.7 457.0L426.6 456.0L425.6 456.7L424.5 457.2L423.5 455.0L422.5 456.4L421.4 454.5L420.4 456.0L419.3 455.9L418.3 456.4L417.3 454.7L416.2 454.8L415.2 454.7L414.1 454.9L413.1 455.0L412.1 454.3L411.0 453.4L410.0 454.7L409.0 453.7L407.9 453.9L406.9 452.5L405.9 453.8L404.8 452.4L403.8 454.4L402.8 452.0L401.8 452.4L400.7 452.4L399.7 452.7L398.7 451.7L397.7 450.6L396.7 450.5L395.7 450.1L394.7 451.9L393.7 450.3L392.7 450.7L391.7 450.4L390.7 449.1L389.7 448.4L388.7 448.2L387.7 449.9L386.7 446.6L385.8 447.4L384.8 446.9L383.9 447.8L382.9 444.6L382.0 445.8L381.1 445.7L380.1 445.5L379.2 444.3L378.3 443.4L377.4 442.5L376.5 443.2L375.6 442.0L374.7 441.7L373.9 441.1L373.0 438.4L372.2 440.0L371.3 438.9L370.5 438.3L369.7 438.4L368.8 437.0L368.0 436.4L367.2 436.0L366.4 434.0L365.6 436.0L364.8 432.2L364.0 432.9L363.3 431.6L362.5 433.3L361.7 432.1L361.0 430.4L360.3 428.1L359.5 428.8L358.8 426.7L358.1 427.2L357.4 426.8L356.7 425.5L356.0 424.2L355.3 423.8L354.6 421.0L353.9 423.0L353.2 422.6L352.5 420.6L351.9 420.3L351.2 420.7L350.5 418.3L349.8 415.7L349.1 417.7L348.5 415.3L347.8 416.0L347.2 415.0L346.6 415.7L346.0 412.0L345.4 413.0L344.8 411.9L344.3 410.4L343.8 411.4L343.3 408.0L342.8 407.5L342.3 405.0L341.8 407.0L341.4 405.8L340.9 402.5L340.4 402.3L340.0 403.7L339.6 401.3L339.2 400.4L338.8 397.6L338.4 397.2L338.0 397.7L337.6 397.8L337.2 395.2L336.7 394.2L336.3 392.9L335.9 392.0L335.5 391.0L335.1 388.7L334.7 387.4L334.3 388.4L333.9 389.6L333.5 386.5L333.0 385.6L332.6 386.7L332.2 382.9L331.8 381.6L331.4 380.8L331.0 379.2L330.6 379.5L330.2 378.7L329.8 378.0L329.4 378.6L328.9 374.8L328.5 373.5L328.1 373.5L327.7 371.6L327.3 373.4L326.9 370.7L326.5 369.0L326.1 366.8L325.8 367.3L325.4 370.0L325.0 364.8L324.7 364.1L324.3 364.7L323.9 364.4L323.6 361.7L323.3 362.5L322.9 358.2L322.6 359.7L322.2 357.6L321.9 356.2L321.5 354.4L321.2 355.4L320.9 353.8L320.5 352.8L320.2 355.7L319.8 353.0L319.5 348.5L319.2 349.4L318.9 348.5L318.6 345.7L318.2 346.2L317.9 344.5L317.7 344.2L317.4 341.6L317.1 341.9L316.8 339.8L316.6 340.5L316.3 338.7L316.0 337.9L315.8 336.1L315.6 334.4L315.3 334.1L315.1 333.7L314.8 332.8L314.6 332.3L314.4 330.0L314.2 329.4L314.0 327.9L313.8 326.6L313.6 325.6L313.4 325.3L313.2 324.1L313.0 323.4L312.8 322.2Z" fill="#0e0e0e" stroke="#0e0e0e" stroke-width="0.35" stroke-linejoin="round"/>
<path d="M313.5 319.1L313.8 322.5L314.2 323.1L314.5 326.9L315.0 325.8L315.3 329.3L315.8 330.1L316.1 334.1L316.7 335.4L317.0 336.7L317.7 338.0L318.0 341.9L318.7 341.5L319.1 344.1L319.9 345.2L320.3 348.7L321.1 348.9L321.5 353.4L322.3 353.7L322.8 356.3L323.6 357.3L324.0 360.7L324.9 359.2L325.3 362.7L326.2 363.3L326.7 366.1L327.6 368.1L328.1 370.6L329.1 371.5L329.6 374.1L330.7 375.3L331.2 377.2L332.2 377.3L332.7 383.6L333.7 382.8L334.2 383.8L335.2 385.7L335.7 387.9L336.7 389.8L337.2 393.2L338.2 393.5L338.7 395.3L339.7 397.2L340.2 399.9L341.3 401.4L341.8 403.7L343.0 404.1L343.6 408.3L344.9 406.9L345.5 409.2L346.9 408.3L347.7 413.6L349.3 412.8L350.1 417.3L351.8 417.2L352.6 418.9L354.3 420.4L355.2 421.1L356.9 423.1L357.8 426.1L359.5 425.2L360.4 427.4L362.2 428.0L363.1 431.1L365.0 430.6L366.0 433.4L368.0 434.0L369.0 436.5L371.0 435.6L372.0 437.7L374.1 438.0L375.2 439.4L377.4 440.4L378.5 441.0L380.7 442.1L381.9 444.6L384.2 444.1L385.4 444.4L387.7 446.4L388.9 447.3L391.4 447.8L392.6 449.3L395.1 449.0L396.3 449.4L398.8 448.9L400.1 450.6L402.6 451.2L403.9 452.1L406.4 451.4L407.7 452.9L410.2 452.4L411.5 453.2L414.1 453.4L415.3 453.4L417.9 453.7L419.2 455.5L421.8 454.4L423.1 454.8L425.6 455.3L426.9 455.2L429.5 454.7L430.8 455.7L433.4 455.8L434.7 456.7L437.3 456.5L438.6 456.2L441.1 456.7L442.4 458.3L445.0 456.3L446.3 457.0L448.9 457.5L450.2 457.4L452.8 457.1L454.1 457.6L456.7 458.4L458.0 457.8L460.6 457.5L461.9 457.5L464.5 458.4L465.8 459.1L468.4 458.4L469.7 457.7L472.3 458.5L473.6 457.4L476.2 458.3L477.5 457.9L480.1 459.0L481.4 457.7L484.0 457.5L485.3 457.6L487.9 458.1L489.2 458.5L491.8 459.0L493.1 458.9L495.7 457.0L497.0 457.6L499.6 458.9L500.9 458.2L503.5 459.2L504.8 458.8L507.4 457.7L508.7 458.4L511.3 458.0L512.6 458.2" fill="none" stroke="#8a8a8a" stroke-width="0.45" opacity="0.55"/>
</g>
<g>
<path d="M557.8 299.5 V473.6 H772.3" fill="none" stroke="#6a6a6a" stroke-width="1.05"/>
<line x1="557.8" y1="449" x2="561.3" y2="449" stroke="#6a6a6a" stroke-width="1"/>
<text x="512.4" y="453.5" font-size="14" textLength="37.1" lengthAdjust="spacingAndGlyphs">0.000</text>
<line x1="557.8" y1="399" x2="561.3" y2="399" stroke="#6a6a6a" stroke-width="1"/>
<text x="512.4" y="403.5" font-size="14" textLength="37.1" lengthAdjust="spacingAndGlyphs">0.001</text>
<line x1="557.8" y1="349.1" x2="561.3" y2="349.1" stroke="#6a6a6a" stroke-width="1"/>
<text x="512.4" y="353.6" font-size="14" textLength="37.1" lengthAdjust="spacingAndGlyphs">0.002</text>
<line x1="557.8" y1="299.5" x2="561.3" y2="299.5" stroke="#6a6a6a" stroke-width="1"/>
<text x="512.4" y="304" font-size="14" textLength="37.1" lengthAdjust="spacingAndGlyphs">0.003</text>
<line x1="557.8" y1="424" x2="560.0" y2="424" stroke="#6a6a6a" stroke-width="0.9" opacity="0.75"/>
<line x1="557.8" y1="374.1" x2="560.0" y2="374.1" stroke="#6a6a6a" stroke-width="0.9" opacity="0.75"/>
<line x1="557.8" y1="324.3" x2="560.0" y2="324.3" stroke="#6a6a6a" stroke-width="0.9" opacity="0.75"/>
<line x1="561.3" y1="473.6" x2="561.3" y2="470.0" stroke="#6a6a6a" stroke-width="1"/>
<text x="561.1" y="490.5" text-anchor="middle" font-size="14">0</text>
<line x1="581.8" y1="473.6" x2="581.8" y2="471.40000000000003" stroke="#6a6a6a" stroke-width="0.9" opacity="0.75"/>
<line x1="602.4" y1="473.6" x2="602.4" y2="470.0" stroke="#6a6a6a" stroke-width="1"/>
<text x="590.9" y="490.5" font-size="14" textLength="24.2" lengthAdjust="spacingAndGlyphs">100</text>
<line x1="623" y1="473.6" x2="623" y2="471.40000000000003" stroke="#6a6a6a" stroke-width="0.9" opacity="0.75"/>
<line x1="643.5" y1="473.6" x2="643.5" y2="470.0" stroke="#6a6a6a" stroke-width="1"/>
<text x="631.3" y="490.5" font-size="14" textLength="24.2" lengthAdjust="spacingAndGlyphs">200</text>
<line x1="664" y1="473.6" x2="664" y2="471.40000000000003" stroke="#6a6a6a" stroke-width="0.9" opacity="0.75"/>
<line x1="684.6" y1="473.6" x2="684.6" y2="470.0" stroke="#6a6a6a" stroke-width="1"/>
<text x="672.4" y="490.5" font-size="14" textLength="24.2" lengthAdjust="spacingAndGlyphs">300</text>
<line x1="705.2" y1="473.6" x2="705.2" y2="471.40000000000003" stroke="#6a6a6a" stroke-width="0.9" opacity="0.75"/>
<line x1="725.7" y1="473.6" x2="725.7" y2="470.0" stroke="#6a6a6a" stroke-width="1"/>
<text x="713.4" y="490.5" font-size="14" textLength="24.2" lengthAdjust="spacingAndGlyphs">400</text>
<line x1="746.2" y1="473.6" x2="746.2" y2="471.40000000000003" stroke="#6a6a6a" stroke-width="0.9" opacity="0.75"/>
<line x1="766.8" y1="473.6" x2="766.8" y2="470.0" stroke="#6a6a6a" stroke-width="1"/>
<text x="755.3" y="490.5" font-size="14" textLength="24.2" lengthAdjust="spacingAndGlyphs">500</text>
<text class="b" x="632.6" y="516.8" font-size="15.8" textLength="35.1" lengthAdjust="spacingAndGlyphs">Time</text><text class="b" x="673.5" y="516.8" font-size="12" textLength="25.9" lengthAdjust="spacingAndGlyphs"><tspan font-size="8.9" dy="-0.6">(</tspan><tspan dy="0.6"><tspan style="font-family:'Liberation Serif', 'Times New Roman', serif;font-weight:normal">µ</tspan>s</tspan><tspan font-size="8.9" dy="-0.6">)</tspan></text>
<text class="b" x="606" y="331.3" font-size="14.5" textLength="113.5" lengthAdjust="spacingAndGlyphs">40 mM ethanol</text>
<text class="b" transform="translate(605,352.8) skewX(-14)" font-size="15.7" textLength="7.5" lengthAdjust="spacingAndGlyphs" style="font-family:'Liberation Serif', 'Times New Roman', serif;stroke-width:0.7px">τ</text>
<text class="b" x="618.4" y="352.8" font-size="14.5" textLength="53.3" lengthAdjust="spacingAndGlyphs">= 80 <tspan style="font-family:'Liberation Serif', 'Times New Roman', serif;font-weight:normal">µ</tspan>s</text>
<path d="M561.8 307.4 L563 322.8 L564.7 338.7" stroke="#333" stroke-width="1" fill="none"/>
<path d="M565.5 336.7L565.6 337.9L565.6 339.8L565.7 339.3L565.7 339.8L565.8 341.0L565.9 342.9L566.0 344.6L566.1 345.1L566.2 345.7L566.4 347.8L566.6 344.4L566.8 348.1L567.1 346.8L567.4 351.1L567.8 352.3L568.1 352.8L568.5 352.9L568.9 354.0L569.3 354.2L569.7 354.8L570.0 356.9L570.4 357.4L570.7 360.3L571.1 357.9L571.4 362.9L571.7 362.0L572.0 361.4L572.4 362.0L572.7 364.1L573.0 367.1L573.4 364.4L573.8 369.0L574.1 364.0L574.5 370.0L574.9 372.4L575.4 370.4L575.8 372.0L576.3 373.5L576.8 372.7L577.2 372.0L577.7 376.8L578.2 375.8L578.7 373.0L579.2 379.0L579.6 380.5L580.1 381.3L580.6 382.1L581.1 384.7L581.5 384.2L582.0 384.5L582.5 384.9L582.9 386.8L583.4 387.4L583.9 388.0L584.4 389.3L584.8 392.2L585.3 392.9L585.8 392.4L586.3 393.9L586.8 393.8L587.3 394.1L587.8 396.5L588.3 397.5L588.8 393.9L589.4 397.5L589.9 398.2L590.4 402.1L591.0 404.3L591.5 401.6L592.1 401.5L592.6 405.0L593.2 405.8L593.8 407.2L594.4 408.6L595.0 408.7L595.6 408.0L596.2 407.8L596.8 411.2L597.5 411.0L598.1 410.7L598.8 410.4L599.4 411.0L600.1 413.8L600.8 414.5L601.5 415.8L602.2 415.8L602.8 416.7L603.5 417.7L604.2 416.6L604.9 420.5L605.7 421.2L606.4 423.0L607.1 421.8L607.8 423.6L608.6 425.4L609.4 423.2L610.1 424.4L610.9 426.5L611.7 425.7L612.5 428.8L613.4 426.0L614.2 428.2L615.0 429.1L615.9 428.2L616.8 430.7L617.6 429.2L618.5 431.9L619.4 432.1L620.2 433.2L621.1 432.3L622.0 433.9L622.9 435.6L623.8 434.4L624.7 436.4L625.6 435.9L626.5 437.2L627.4 436.5L628.4 438.9L629.3 438.9L630.2 439.7L631.2 439.6L632.1 441.3L633.1 437.2L634.0 440.6L635.0 438.2L636.0 441.3L636.9 440.4L637.9 442.3L638.9 443.7L639.9 444.4L640.8 443.4L641.8 443.6L642.8 443.6L643.8 440.9L644.8 445.8L645.8 443.3L646.8 447.0L647.8 446.2L648.8 445.8L649.8 446.0L650.8 447.1L651.8 447.2L652.8 447.8L653.8 447.3L654.8 446.6L655.9 447.5L656.9 449.0L657.9 450.0L658.9 448.7L660.0 449.5L661.0 448.8L662.0 448.9L663.0 447.8L664.1 450.3L665.1 449.9L666.1 450.7L667.2 449.0L668.2 450.9L669.2 451.9L670.3 451.9L671.3 450.9L672.3 451.8L673.4 449.0L674.4 448.2L675.5 452.8L676.5 451.4L677.5 451.8L678.6 451.2L679.6 453.0L680.7 451.3L681.7 451.8L682.7 453.3L683.8 452.1L684.8 452.8L685.9 453.4L686.9 452.7L688.0 452.8L689.0 454.1L690.0 452.7L691.1 453.8L692.1 452.5L693.2 454.1L694.2 455.0L695.3 455.1L696.3 452.5L697.4 455.2L698.4 455.6L699.5 454.4L700.5 453.4L701.5 453.9L702.6 455.4L703.6 453.6L704.7 454.7L705.7 455.4L706.8 455.9L707.8 455.3L708.9 454.4L709.9 456.1L711.0 455.0L712.0 454.2L713.1 455.0L714.1 454.7L715.2 455.6L716.2 455.3L717.3 455.9L718.3 456.1L719.4 455.7L720.4 456.2L721.5 456.1L722.5 455.0L723.6 455.9L724.6 455.4L725.7 456.9L726.7 456.8L727.8 456.0L728.8 457.0L729.9 456.2L730.9 457.2L732.0 457.4L733.0 456.8L734.0 457.2L735.1 457.8L736.1 457.1L737.2 457.2L738.2 456.9L739.3 457.4L740.3 457.8L741.4 458.0L742.4 457.4L742.4 458.6L741.4 459.8L740.3 459.5L739.3 459.1L738.2 460.4L737.2 458.9L736.1 459.5L735.1 459.5L734.0 459.7L733.0 458.2L731.9 458.7L730.9 459.0L729.8 457.4L728.8 458.3L727.7 457.2L726.7 458.7L725.6 459.3L724.6 457.6L723.5 458.5L722.5 457.6L721.4 458.6L720.4 458.1L719.3 458.5L718.3 458.7L717.2 458.8L716.2 457.4L715.1 457.5L714.1 458.7L713.0 457.7L712.0 455.7L710.9 457.3L709.9 457.7L708.8 457.3L707.8 457.4L706.7 458.0L705.7 457.5L704.7 459.1L703.6 456.8L702.6 457.8L701.5 457.2L700.5 457.7L699.4 457.5L698.4 457.9L697.3 458.5L696.3 455.9L695.2 456.9L694.2 457.4L693.1 455.9L692.1 455.7L691.0 456.3L690.0 457.8L688.9 457.0L687.9 455.3L686.8 456.3L685.8 456.3L684.7 455.4L683.7 454.7L682.7 455.2L681.6 454.7L680.6 454.4L679.5 455.0L678.5 457.4L677.4 454.2L676.4 453.8L675.4 455.1L674.3 454.0L673.3 454.6L672.2 455.7L671.2 453.6L670.1 454.1L669.1 454.7L668.1 453.1L667.0 452.5L666.0 453.8L665.0 452.5L663.9 452.8L662.9 452.6L661.9 451.6L660.8 451.7L659.8 452.8L658.8 452.9L657.7 453.8L656.7 454.2L655.7 451.6L654.6 450.3L653.6 450.1L652.6 450.9L651.6 453.6L650.6 450.5L649.5 449.6L648.5 450.1L647.5 450.0L646.5 450.6L645.5 450.3L644.5 449.2L643.5 447.4L642.5 447.5L641.5 447.7L640.5 447.7L639.5 447.5L638.5 447.8L637.6 446.5L636.6 446.1L635.6 445.5L634.6 445.9L633.6 444.6L632.7 444.0L631.7 444.5L630.8 443.4L629.8 445.4L628.9 442.2L627.9 442.7L627.0 440.6L626.1 441.4L625.1 443.5L624.2 440.9L623.3 438.4L622.4 439.3L621.5 440.1L620.6 439.6L619.7 437.2L618.8 436.1L617.9 435.9L617.0 434.1L616.2 434.8L615.3 437.5L614.4 434.4L613.6 432.6L612.7 433.8L611.9 434.5L611.0 430.7L610.2 431.5L609.4 430.1L608.6 428.6L607.8 431.4L607.1 430.2L606.3 429.8L605.6 430.6L604.8 426.2L604.1 425.9L603.4 425.2L602.7 422.6L602.0 422.4L601.3 420.3L600.6 423.2L599.9 422.0L599.2 419.0L598.5 418.1L597.9 417.4L597.2 416.5L596.5 419.1L595.9 415.9L595.2 413.8L594.6 415.0L593.9 414.9L593.3 413.5L592.7 413.3L592.2 410.3L591.6 417.5L591.0 409.1L590.4 407.3L589.9 411.3L589.3 409.4L588.8 405.9L588.2 404.2L587.7 403.5L587.2 403.3L586.7 402.3L586.2 402.2L585.7 400.1L585.2 401.1L584.6 396.7L584.1 397.9L583.7 397.5L583.2 399.5L582.7 393.6L582.2 395.8L581.7 392.3L581.2 390.9L580.8 392.9L580.3 389.7L579.8 392.9L579.4 388.7L578.9 387.9L578.4 387.0L577.9 388.5L577.4 383.5L576.9 385.0L576.5 382.7L576.0 380.1L575.5 380.4L575.0 380.5L574.5 378.0L574.1 377.8L573.6 379.7L573.2 376.0L572.8 374.3L572.4 374.4L572.0 371.8L571.7 371.8L571.3 371.1L571.0 369.0L570.6 368.4L570.3 367.1L570.0 371.2L569.7 365.6L569.3 367.4L569.0 364.8L568.6 363.9L568.2 364.5L567.9 360.3L567.5 359.6L567.1 361.7L566.7 361.9L566.3 357.6L566.0 356.6L565.7 353.9L565.4 354.8L565.1 354.4L564.9 352.1L564.7 351.7L564.5 348.7L564.4 349.8L564.3 346.7L564.2 345.4L564.2 343.4L564.1 343.1L564.0 343.9L564.0 341.3L563.9 339.6Z" fill="#0e0e0e" stroke="#0e0e0e" stroke-width="0.35" stroke-linejoin="round"/>
<path d="M564.7 337.9L564.8 340.4L564.9 342.3L565.0 344.4L565.2 345.9L565.4 349.0L565.9 350.3L566.2 352.6L567.0 352.6L567.5 356.0L568.4 356.1L568.9 361.5L569.8 361.0L570.2 365.3L571.0 363.4L571.4 367.6L572.3 367.8L572.7 372.0L573.6 370.6L574.1 375.8L575.2 374.1L575.8 378.0L577.0 377.2L577.6 381.9L578.8 381.6L579.4 384.9L580.6 385.3L581.2 388.1L582.3 389.0L582.9 390.9L584.1 392.8L584.7 395.3L585.9 396.5L586.6 398.4L587.8 399.1L588.5 401.4L589.8 403.6L590.5 408.3L591.9 405.5L592.6 408.6L594.0 409.0L594.8 413.8L596.3 413.7L597.1 416.2L598.8 414.9L599.6 419.3L601.3 418.1L602.2 421.6L603.9 421.4L604.8 424.3L606.6 423.8L607.5 426.5L609.4 427.2L610.4 429.2L612.4 427.4L613.5 432.1L615.6 432.0L616.7 434.8L618.8 434.1L619.9 436.8L622.1 436.4L623.2 438.1L625.5 437.7L626.6 441.0L629.0 438.4L630.1 442.7L632.5 442.0L633.7 443.8L636.1 443.3L637.3 444.0L639.7 444.1L640.9 445.7L643.4 447.0L644.6 446.1L647.1 447.6L648.3 450.7L650.8 446.9L652.1 449.5L654.6 449.6L655.9 450.1L658.4 450.1L659.7 451.0L662.2 450.3L663.5 452.1L666.1 450.5L667.4 452.0L669.9 451.9L671.2 453.1L673.8 452.2L675.1 453.7L677.6 452.4L678.9 453.9L681.5 453.6L682.8 454.4L685.4 454.4L686.7 454.5L689.3 453.7L690.6 455.7L693.1 454.3L694.4 455.3L697.0 455.9L698.3 454.9L700.9 455.3L702.2 456.5L704.8 454.5L706.1 456.4L708.7 455.5L710.0 456.4L712.6 456.6L713.9 457.0L716.5 457.4L717.8 457.6L720.4 456.7L721.7 457.0L724.3 456.6L725.6 457.1L728.2 457.1L729.5 456.2L732.1 456.8L733.4 457.6L736.0 456.9L737.3 457.5L739.9 458.0L741.2 457.5" fill="none" stroke="#8a8a8a" stroke-width="0.45" opacity="0.55"/>
</g>
<g>
<path d="M789.2 298.6 V479.3 H1013.7" fill="none" stroke="#585858" stroke-width="1.2"/>
<line x1="789.2" y1="298.6" x2="789.2" y2="479.3" stroke="#707070" stroke-width="2.3"/>
<line x1="789.2" y1="454.8" x2="792.7" y2="454.8" stroke="#585858" stroke-width="1"/>
<text x="741.2" y="459.3" font-size="14.2" textLength="36.6" lengthAdjust="spacingAndGlyphs">0.000</text>
<line x1="789.2" y1="405.9" x2="792.7" y2="405.9" stroke="#585858" stroke-width="1"/>
<text x="741.2" y="410.4" font-size="14.2" textLength="36.6" lengthAdjust="spacingAndGlyphs">0.001</text>
<line x1="789.2" y1="357.4" x2="792.7" y2="357.4" stroke="#585858" stroke-width="1"/>
<text x="741.2" y="361.9" font-size="14.2" textLength="36.6" lengthAdjust="spacingAndGlyphs">0.002</text>
<line x1="789.2" y1="309.5" x2="792.7" y2="309.5" stroke="#585858" stroke-width="1"/>
<text x="741.2" y="314" font-size="14.2" textLength="36.6" lengthAdjust="spacingAndGlyphs">0.003</text>
<line x1="789.2" y1="430.4" x2="791.4000000000001" y2="430.4" stroke="#585858" stroke-width="0.9" opacity="0.75"/>
<line x1="789.2" y1="381.6" x2="791.4000000000001" y2="381.6" stroke="#585858" stroke-width="0.9" opacity="0.75"/>
<line x1="789.2" y1="333.4" x2="791.4000000000001" y2="333.4" stroke="#585858" stroke-width="0.9" opacity="0.75"/>
<line x1="792.8" y1="479.3" x2="792.8" y2="475.7" stroke="#585858" stroke-width="1"/>
<text x="792.3" y="497.3" text-anchor="middle" font-size="14.2">0</text>
<line x1="814.7" y1="479.3" x2="814.7" y2="477.1" stroke="#585858" stroke-width="0.9" opacity="0.75"/>
<line x1="836.6" y1="479.3" x2="836.6" y2="475.7" stroke="#585858" stroke-width="1"/>
<text x="823.4" y="497.3" font-size="14.2" textLength="24.6" lengthAdjust="spacingAndGlyphs">100</text>
<line x1="858.2" y1="479.3" x2="858.2" y2="477.1" stroke="#585858" stroke-width="0.9" opacity="0.75"/>
<line x1="879.7" y1="479.3" x2="879.7" y2="475.7" stroke="#585858" stroke-width="1"/>
<text x="865.7" y="497.3" font-size="14.2" textLength="24.6" lengthAdjust="spacingAndGlyphs">200</text>
<line x1="901.2" y1="479.3" x2="901.2" y2="477.1" stroke="#585858" stroke-width="0.9" opacity="0.75"/>
<line x1="922.7" y1="479.3" x2="922.7" y2="475.7" stroke="#585858" stroke-width="1"/>
<text x="908.8" y="497.3" font-size="14.2" textLength="24.6" lengthAdjust="spacingAndGlyphs">300</text>
<line x1="944.4" y1="479.3" x2="944.4" y2="477.1" stroke="#585858" stroke-width="0.9" opacity="0.75"/>
<line x1="966" y1="479.3" x2="966" y2="475.7" stroke="#585858" stroke-width="1"/>
<text x="952.5" y="497.3" font-size="14.2" textLength="24.6" lengthAdjust="spacingAndGlyphs">400</text>
<line x1="987.5" y1="479.3" x2="987.5" y2="477.1" stroke="#585858" stroke-width="0.9" opacity="0.75"/>
<line x1="1009.1" y1="479.3" x2="1009.1" y2="475.7" stroke="#585858" stroke-width="1"/>
<text x="994.7" y="497.3" font-size="14.2" textLength="24.6" lengthAdjust="spacingAndGlyphs">500</text>
<text class="b" x="866" y="518.7" font-size="16.6" textLength="37.5" lengthAdjust="spacingAndGlyphs">Time</text><text class="b" x="908.5" y="518.7" font-size="12.5" textLength="30" lengthAdjust="spacingAndGlyphs"><tspan font-size="9.2" dy="-0.6">(</tspan><tspan dy="0.6"><tspan style="font-family:'Liberation Serif', 'Times New Roman', serif;font-weight:normal">µ</tspan>s</tspan><tspan font-size="9.2" dy="-0.6">)</tspan></text>
<text class="b" x="849.7" y="329.9" font-size="17" textLength="117" lengthAdjust="spacingAndGlyphs">1.2 mM lactate</text>
<text class="b" transform="translate(848.7,351.0) skewX(-14)" font-size="18.4" textLength="8.8" lengthAdjust="spacingAndGlyphs" style="font-family:'Liberation Serif', 'Times New Roman', serif;stroke-width:0.7px">τ</text>
<text class="b" x="862.1" y="351.0" font-size="17" textLength="56.9" lengthAdjust="spacingAndGlyphs">= 87 <tspan style="font-family:'Liberation Serif', 'Times New Roman', serif;font-weight:normal">µ</tspan>s</text>
<path d="M793.9 301 L794.6 312" stroke="#333" stroke-width="1" fill="none"/>
<path d="M795.6 310.1L795.7 308.4L795.8 311.1L796.0 311.0L796.1 313.7L796.2 314.4L796.4 315.9L796.6 316.5L796.8 317.6L797.0 317.1L797.2 317.2L797.4 316.7L797.6 321.2L797.8 319.8L798.0 322.4L798.2 324.3L798.4 325.0L798.6 327.3L798.8 325.0L799.0 328.7L799.2 328.0L799.4 330.3L799.6 330.0L799.8 331.3L800.0 332.4L800.2 333.4L800.4 335.8L800.6 338.3L800.8 337.7L801.1 336.9L801.3 340.7L801.6 341.0L801.8 342.6L802.1 342.0L802.3 345.9L802.6 340.9L802.9 346.2L803.1 347.2L803.4 344.8L803.7 348.2L803.9 351.1L804.2 350.9L804.5 351.9L804.7 354.2L805.0 352.8L805.3 354.8L805.6 356.3L805.9 355.7L806.2 358.8L806.5 358.7L806.8 357.4L807.1 359.3L807.4 361.7L807.7 363.5L808.1 364.0L808.4 365.1L808.8 363.2L809.1 366.5L809.5 367.2L809.8 368.7L810.2 368.0L810.6 370.6L811.0 370.3L811.4 372.7L811.9 371.4L812.4 374.3L812.9 375.4L813.3 375.5L813.8 378.0L814.2 377.3L814.7 381.0L815.2 376.9L815.6 378.6L816.1 381.5L816.5 383.8L817.0 383.2L817.5 383.9L817.9 385.5L818.4 386.9L818.9 385.1L819.4 388.7L819.9 386.3L820.4 387.0L820.9 390.0L821.4 390.3L821.9 389.7L822.4 392.6L822.9 396.3L823.4 396.7L823.9 396.1L824.4 393.9L825.0 396.7L825.5 397.3L826.0 396.8L826.5 400.6L827.0 402.5L827.5 403.9L828.1 404.4L828.6 402.6L829.1 405.8L829.7 405.6L830.2 406.6L830.8 410.0L831.4 404.8L831.9 410.1L832.6 411.7L833.2 412.9L833.8 410.0L834.5 413.7L835.1 415.3L835.8 411.7L836.5 415.5L837.2 415.0L837.9 417.1L838.6 418.2L839.3 420.3L840.0 418.7L840.7 420.8L841.5 423.1L842.2 423.1L843.0 421.8L843.7 421.4L844.5 424.5L845.2 426.6L846.0 421.5L846.8 426.4L847.6 425.7L848.4 429.4L849.2 429.2L850.0 430.4L850.8 428.9L851.7 429.8L852.5 430.7L853.4 433.2L854.2 432.5L855.0 435.1L855.9 433.5L856.7 435.3L857.6 433.1L858.5 435.6L859.3 434.8L860.2 437.8L861.1 437.7L861.9 439.4L862.8 438.8L863.7 439.9L864.6 438.2L865.5 439.0L866.4 439.2L867.3 440.2L868.2 442.2L869.1 442.9L870.1 442.6L871.0 441.5L872.0 444.7L872.9 444.4L873.9 445.7L874.8 444.2L875.8 445.8L876.8 446.0L877.7 447.3L878.7 447.7L879.7 446.2L880.6 447.8L881.6 448.6L882.6 446.6L883.6 447.4L884.6 449.4L885.6 448.6L886.6 450.7L887.6 450.6L888.6 450.2L889.6 450.7L890.6 450.4L891.6 450.5L892.6 449.0L893.6 451.5L894.6 452.5L895.6 451.7L896.6 452.7L897.6 452.8L898.6 452.2L899.6 453.5L900.6 453.0L901.6 453.6L902.6 452.1L903.6 453.9L904.7 453.7L905.7 454.3L906.7 455.2L907.8 454.8L908.8 458.0L909.8 455.8L910.9 456.4L911.9 455.8L912.9 456.8L913.9 456.9L915.0 458.5L916.0 457.4L917.0 457.6L918.1 458.0L919.1 458.6L920.1 457.8L921.2 459.2L922.2 458.9L923.2 458.9L924.3 457.9L925.3 456.9L926.3 460.1L927.4 459.9L928.4 459.4L929.4 459.7L930.5 460.2L931.5 459.4L932.5 459.7L933.6 460.8L934.6 460.3L935.7 461.0L936.7 461.8L937.7 461.8L938.8 462.2L939.8 461.4L940.9 462.1L941.9 460.8L943.0 462.4L944.0 461.5L945.0 461.5L946.1 461.2L947.1 462.0L948.2 463.9L949.2 462.6L950.3 463.1L951.3 462.3L952.4 462.6L953.4 463.2L954.5 463.4L955.5 463.1L956.6 464.4L957.6 463.5L958.7 463.2L959.7 461.5L960.7 462.6L961.8 462.7L962.8 462.1L963.9 463.1L964.9 463.6L966.0 462.5L967.0 464.3L968.1 462.4L969.1 464.0L970.2 462.2L971.2 464.1L972.3 463.1L973.3 463.8L974.4 463.0L975.4 463.1L976.5 463.7L977.5 463.7L978.6 463.7L979.6 463.0L980.7 464.0L981.7 464.8L982.8 464.1L983.8 464.3L984.9 463.7L985.9 463.5L987.0 463.7L987.0 465.4L985.9 465.0L984.9 465.9L983.8 466.4L982.8 466.1L981.7 466.5L980.7 466.4L979.6 466.9L978.6 465.7L977.5 466.3L976.5 465.8L975.4 466.1L974.4 465.1L973.3 466.6L972.3 465.2L971.2 466.7L970.2 465.3L969.1 466.3L968.1 465.9L967.0 467.0L966.0 465.6L964.9 465.7L963.9 465.4L962.8 464.0L961.8 465.7L960.7 465.3L959.7 464.9L958.6 466.0L957.6 466.3L956.5 466.5L955.5 466.2L954.4 465.6L953.4 466.6L952.3 465.0L951.3 465.8L950.2 465.4L949.2 464.9L948.1 466.3L947.1 464.6L946.0 464.6L945.0 464.4L943.9 464.6L942.9 464.9L941.8 465.1L940.8 464.4L939.7 465.4L938.7 464.7L937.6 464.3L936.6 464.8L935.5 463.8L934.5 464.1L933.4 463.9L932.4 462.7L931.4 462.8L930.3 463.5L929.3 462.9L928.2 462.9L927.2 462.6L926.2 462.5L925.1 462.2L924.1 463.3L923.1 462.5L922.0 462.8L921.0 461.9L919.9 461.6L918.9 461.9L917.9 462.1L916.8 460.8L915.8 461.7L914.8 463.6L913.7 461.4L912.7 461.5L911.7 459.7L910.6 459.9L909.6 460.5L908.6 461.1L907.5 458.5L906.5 460.8L905.5 461.2L904.4 457.7L903.4 459.3L902.4 457.4L901.3 458.2L900.3 457.4L899.3 457.4L898.3 458.3L897.2 456.0L896.2 456.9L895.2 457.6L894.2 457.4L893.2 455.2L892.2 454.1L891.2 456.6L890.2 455.9L889.2 454.2L888.2 455.4L887.2 454.8L886.2 454.8L885.2 453.6L884.2 455.2L883.2 455.0L882.2 452.7L881.2 453.0L880.2 455.2L879.2 451.2L878.2 453.0L877.2 452.2L876.3 451.3L875.3 450.9L874.3 450.1L873.3 450.7L872.4 449.0L871.4 449.1L870.5 451.7L869.5 449.2L868.5 449.1L867.6 448.2L866.7 447.6L865.7 445.5L864.8 444.7L863.9 443.7L863.0 446.1L862.1 444.0L861.2 444.5L860.3 444.4L859.4 444.3L858.5 441.8L857.7 440.2L856.8 440.1L855.9 441.2L855.1 438.2L854.2 440.8L853.4 439.8L852.5 439.5L851.7 436.7L850.8 435.1L850.0 437.6L849.1 435.8L848.3 434.5L847.5 435.1L846.6 433.1L845.8 432.1L845.0 430.4L844.2 434.2L843.4 430.7L842.7 430.1L841.9 432.9L841.2 429.0L840.4 428.6L839.7 427.8L838.9 425.2L838.2 425.3L837.5 425.3L836.8 426.0L836.0 426.7L835.3 428.5L834.6 422.6L833.9 420.9L833.3 419.5L832.6 419.5L831.9 419.5L831.3 417.0L830.7 415.7L830.0 416.0L829.4 416.7L828.9 415.7L828.3 417.9L827.7 413.8L827.2 413.3L826.7 410.2L826.1 410.6L825.6 409.6L825.1 409.5L824.6 406.4L824.0 408.5L823.5 405.3L823.0 407.9L822.4 406.7L821.9 404.4L821.4 402.1L820.9 401.3L820.4 404.6L819.9 398.6L819.3 400.4L818.8 402.5L818.3 395.9L817.9 395.8L817.4 394.7L816.9 393.9L816.4 393.2L815.9 390.6L815.4 394.1L815.0 390.4L814.5 388.9L814.0 390.3L813.6 387.5L813.1 387.7L812.6 385.2L812.2 384.3L811.7 382.8L811.2 381.7L810.8 380.0L810.3 382.2L809.8 380.6L809.3 380.7L808.9 380.2L808.5 376.9L808.1 374.6L807.7 373.4L807.4 371.8L807.0 372.0L806.7 371.0L806.3 373.1L806.0 371.2L805.6 370.5L805.3 369.8L805.0 366.3L804.7 367.3L804.4 365.8L804.0 363.1L803.7 364.0L803.5 361.2L803.2 361.7L802.9 361.0L802.6 361.4L802.3 357.2L802.1 358.9L801.8 354.6L801.5 355.0L801.2 352.4L801.0 353.0L800.7 351.9L800.4 353.2L800.2 349.4L799.9 347.7L799.7 347.1L799.4 348.0L799.1 347.4L798.9 346.3L798.7 343.3L798.4 342.2L798.2 339.4L798.0 342.4L797.8 338.7L797.6 338.7L797.4 337.9L797.2 336.0L797.0 334.2L796.8 333.1L796.6 334.4L796.4 330.1L796.2 331.2L796.0 329.8L795.8 327.9L795.5 328.4L795.3 326.9L795.1 326.5L794.9 325.6L794.7 323.1L794.5 324.8L794.4 322.7L794.2 319.1L794.0 319.4L793.9 316.7L793.8 316.2L793.7 316.2L793.6 314.7Z" fill="#0e0e0e" stroke="#0e0e0e" stroke-width="0.35" stroke-linejoin="round"/>
<path d="M794.6 310.9L794.7 314.3L795.0 315.2L795.2 318.8L795.6 318.3L795.9 321.7L796.4 321.3L796.6 326.4L797.1 326.0L797.4 330.1L797.9 330.6L798.1 334.0L798.6 333.2L798.9 337.7L799.4 336.6L799.7 341.1L800.3 341.6L800.6 346.0L801.2 345.5L801.6 348.5L802.2 348.5L802.6 352.7L803.2 351.0L803.6 356.9L804.2 356.1L804.6 361.4L805.3 359.6L805.7 363.8L806.5 363.8L806.9 369.1L807.8 367.9L808.2 371.5L809.1 370.5L809.6 375.6L810.7 374.6L811.3 377.0L812.5 377.2L813.0 381.2L814.2 381.9L814.7 385.8L815.9 386.0L816.5 390.5L817.6 389.3L818.2 393.8L819.5 392.1L820.1 395.8L821.3 397.2L822.0 399.6L823.2 398.5L823.9 402.1L825.2 400.9L825.8 407.8L827.1 406.1L827.8 409.1L829.1 408.8L829.8 412.2L831.3 411.6L832.1 415.7L833.7 414.0L834.5 418.5L836.2 418.3L837.1 421.2L838.9 420.5L839.8 425.2L841.6 424.0L842.5 428.0L844.4 426.2L845.4 431.1L847.3 430.1L848.4 432.3L850.4 430.9L851.4 435.9L853.5 436.3L854.6 438.3L856.7 437.9L857.8 439.4L859.9 440.0L861.0 442.6L863.2 441.3L864.3 444.0L866.6 443.4L867.7 444.5L870.1 443.5L871.2 446.1L873.6 447.2L874.8 448.1L877.2 448.7L878.4 450.4L880.8 450.1L882.1 451.5L884.5 450.2L885.8 453.1L888.2 452.9L889.5 454.0L891.9 453.5L893.2 455.5L895.7 454.9L896.9 455.0L899.4 456.1L900.7 456.3L903.2 456.5L904.5 459.2L907.1 457.4L908.3 457.8L910.9 458.6L912.2 458.5L914.7 458.2L916.0 461.1L918.6 459.2L919.8 460.3L922.4 460.7L923.7 461.2L926.3 460.9L927.5 461.1L930.1 460.9L931.4 462.8L934.0 462.7L935.3 463.0L937.8 462.2L939.1 463.2L941.7 463.1L943.0 464.3L945.6 462.4L946.9 464.6L949.5 463.2L950.8 464.2L953.4 463.8L954.7 464.0L957.3 464.3L958.6 465.1L961.2 464.2L962.5 463.7L965.1 464.4L966.4 464.4L969.0 465.7L970.3 465.7L972.9 464.4L974.2 464.5L976.8 464.6L978.1 465.2L980.7 464.3L982.0 464.7L984.6 464.8L985.9 465.4" fill="none" stroke="#8a8a8a" stroke-width="0.45" opacity="0.3"/>
<path d="M798.6 334.9 L798.8 335.8 L799 336.8 L799.2 337.8 L799.4 338.7 L799.6 339.6 L799.8 340.6 L800 341.6 L800.2 342.5 L800.5 343.5 L800.7 344.5 L801 345.4 L801.2 346.4 L801.5 347.3 L801.7 348.3 L802 349.2 L802.2 350.2 L802.5 351.1 L802.7 352 L802.9 352.9 L803.2 353.7 L803.4 354.6 L803.6 355.4 L803.8 356.2 L804 357 L804.3 357.8 L804.5 358.6 L804.7 359.5 L805 360.3 L805.2 361.1 L805.5 362 L805.8 362.9 L806.1 363.8 L806.4 364.8 L806.7 365.8 L807 366.7 L807.4 367.7 L807.7 368.7 L808 369.6 L808.4 370.5 L808.7 371.4 L809 372.2 L809.3 373 L809.6 373.7 L809.8 374.3 L810.1 374.8 L810.3 375.3 L810.5 375.8 L810.7 376.2 L811 376.7 L811.2 377.2 L811.5 377.7 L811.8 378.2 L812.1 378.8 L812.4 379.5 L812.8 380.3 L813.2 381.1 L813.6 381.9 L814 382.8 L814.5 383.8 L814.9 384.7 L815.4 385.7 L815.9 386.7 L816.4 387.7 L816.9 388.7 L817.4 389.6 L817.9 390.6 L818.4 391.5 L818.9 392.5 L819.4 393.4 L819.9 394.3 L820.4 395.3 L820.9 396.2 L821.4 397.1 L822 398.1 L822.5 399 L823 400 L823.6 401 L824.2 402 L824.8 403 L825.4 404.1 L826 405.1 L826.6 406.2 L827.2 407.2 L827.8 408.3 L828.5 409.4 L829.1 410.5 L829.8 411.6 L830.6 412.7 L831.3 413.7 L832.1 414.8 L832.9 415.9 L833.8 416.9 L834.7 418 L835.6 419.1 L836.6 420.2 L837.6 421.3 L838.6 422.3 L839.6 423.4 L840.6 424.4 L841.6 425.4 L842.5 426.4 L843.5 427.3 L844.5 428.2 L845.4 429 L846.4 429.9 L847.3 430.6 L848.2 431.4 L849.2 432.2 L850.1 432.9 L851.1 433.6 L852 434.3 L853 435 L853.9 435.7 L854.9 436.4 L855.9 437.1 L856.8 437.8 L857.8 438.4 L858.7 439.1 L859.7 439.7 L860.6 440.3 L861.6 441 L862.5 441.6 L863.5 442.1 L864.4 442.7 L865.4 443.3 L866.3 443.8 L867.2 444.3 L868.2 444.8 L869.1 445.3 L870.1 445.7 L871 446.2 L871.9 446.6 L872.9 447 L873.8 447.4 L874.8 447.8 L875.7 448.2 L876.7 448.6 L877.6 449 L878.5 449.4 L879.5 449.7 L880.4 450.1 L881.4 450.4 L882.4 450.8 L883.3 451.1 L884.3 451.4 L885.2 451.8 L886.2 452.1 L887.1 452.4 L888.1 452.7 L889 453 L889.9 453.3 L890.9 453.6 L891.8 453.9 L892.7 454.2 L893.7 454.5 L894.6 454.8 L895.5 455 L896.5 455.3 L897.4 455.6 L898.3 455.8 L899.3 456.1 L900.2 456.3 L901.1 456.5 L902.1 456.7 L903 457 L904 457.2 L904.9 457.3 L905.9 457.5 L906.9 457.7 L907.8 457.9 L908.8 458.1 L909.7 458.2 L910.7 458.4 L911.6 458.6 L912.5 458.8 L913.5 459 L914.4 459.1 L915.3 459.3 L916.3 459.5 L917.2 459.6 L918.1 459.8 L919.1 460 L920 460.1 L920.9 460.3 L921.9 460.4 L922.8 460.6 L923.7 460.8 L924.7 460.9 L925.6 461.1 L926.6 461.2 L927.5 461.4 L928.5 461.6 L929.4 461.7 L930.4 461.9 L931.3 462 L932.3 462.1 L933.2 462.3 L934.2 462.4 L935.2 462.5 L936.1 462.6 L937.1 462.7 L938 462.8 L939 462.9 L939.9 463 L940.9 463.1 L941.8 463.2 L942.8 463.3 L943.7 463.3 L944.7 463.4 L945.6 463.5 L946.6 463.6 L947.5 463.6 L948.5 463.7 L949.4 463.8 L950.4 463.8 L951.3 463.9 L952.3 464 L953.2 464 L954.2 464.1 L955.1 464.1 L956.1 464.2 L957 464.2 L957.9 464.2 L958.9 464.3 L959.8 464.3 L960.8 464.3 L961.7 464.4 L962.6 464.4 L963.6 464.4 L964.5 464.4 L965.5 464.4 L966.4 464.5 L967.4 464.5 L968.3 464.5 L969.3 464.5 L970.2 464.5 L971.2 464.6 L972.2 464.6 L973.2 464.6 L974.2 464.6 L975.2 464.6 L976.1 464.6 L977.1 464.7 L978 464.7" fill="none" stroke="#fff" stroke-width="0.75" opacity="0.62"/>
</g>
</g>
</svg></body></html>
